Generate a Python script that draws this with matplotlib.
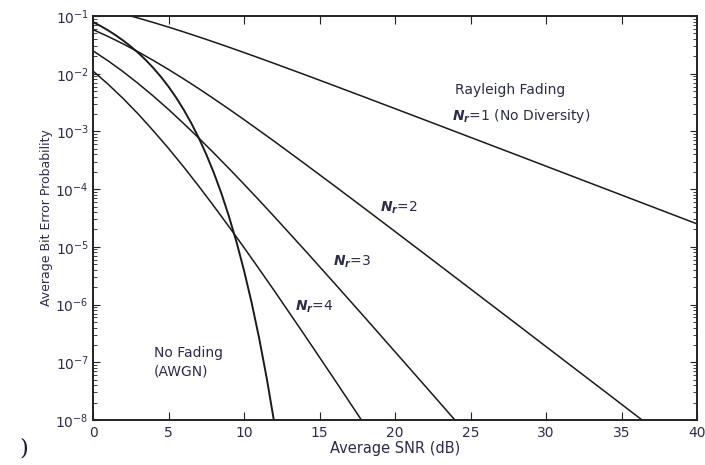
import numpy as np
import matplotlib
matplotlib.use("Agg")
import matplotlib.pyplot as plt

# bit error probability (no fading and Rayleigh with Nr branches)
snr_db = [0, 1, 2, 3, 4, 5, 6, 7, 8, 9, 10, 11, 12, 14, 16, 18, 20, 22, 24, 26, 28,
          30, 32, 34, 36, 38, 40]
nr1 = [0.1465, 0.1267, 0.1085, 0.0919, 0.0771, 0.0642, 0.0530, 0.04348, 0.03546,
       0.02878, 0.02327, 0.01875, 0.01506, 0.009665, 0.006164, 0.003916, 0.002481,
       0.00157, 9.92e-4, 6.27e-4, 3.96e-4, 2.50e-4, 1.576e-4, 9.95e-5, 6.28e-5,
       3.96e-5, 2.50e-5]
nr2 = [0.0581, 0.0441, 0.0328, 0.0238, 0.01693, 0.01183, 0.00813, 0.00551, 0.00368,
       0.00244, 0.0016, 0.00104, 6.74e-4, 2.78e-4, 1.135e-4, 4.59e-5, 1.844e-5,
       7.39e-6, 2.95e-6, 1.178e-6, 4.70e-7, 1.87e-7, 7.45e-8, 2.97e-8, 1.18e-8,
       4.7e-9, 1.9e-9]
nr3 = [0.0249, 0.01668, 0.01078, 0.00673, 0.00408, 0.0024, 0.00137, 7.69e-4, 4.22e-4,
       2.28e-4, 1.216e-4, 6.41e-5, 3.34e-5, 8.90e-6, 2.32e-6, 5.97e-7, 1.52e-7,
       3.86e-8, 9.76e-9, 2.46e-9]
nr4 = [0.0111, 0.00656, 0.0037, 0.00199, 0.00102, 5.07e-4, 2.43e-4, 1.125e-4, 5.07e-5,
       2.24e-5, 9.70e-6, 4.13e-6, 1.74e-6, 2.98e-7, 4.98e-8, 8.15e-9, 1.32e-9]

awgn_db = [0, 0.5, 1, 1.5, 2, 2.5, 3, 3.5, 4, 4.5, 5, 5.5, 6, 6.5, 7, 7.5, 8, 8.5, 9,
           9.5, 10, 10.5, 11, 11.5, 12, 12.5]
awgn = [0.07865, 0.06706, 0.05628, 0.0464, 0.03751, 0.02965, 0.02288, 0.01717, 0.0125,
        0.008793, 0.005954, 0.003861, 0.002388, 0.001399, 7.727e-4, 3.99e-4, 1.909e-4,
        8.44e-5, 3.363e-5, 1.214e-5, 3.872e-6, 1.083e-6, 2.613e-7, 5.33e-8, 9.0e-9, 1.23e-9]

txt = '#2c2c4c'
plt.rcParams['font.family'] = ['DejaVu Sans']
plt.rcParams['mathtext.fontset'] = 'custom'
plt.rcParams['mathtext.rm'] = 'DejaVu Sans'
plt.rcParams['mathtext.it'] = 'DejaVu Sans:italic:bold'

fig = plt.figure(figsize=(7.05, 4.65), dpi=100)
ax = fig.add_axes([0.132, 0.0968, 0.8567, 0.8688])

lc = '#1a1a1a'
ax.semilogy(snr_db, nr1, color=lc, lw=1.1)
ax.semilogy(snr_db, nr2, color=lc, lw=1.1)
ax.semilogy(snr_db[:len(nr3)], nr3, color=lc, lw=1.1)
ax.semilogy(snr_db[:len(nr4)], nr4, color=lc, lw=1.1)
ax.semilogy(awgn_db, awgn, color=lc, lw=1.4)

ax.set_xlim(0, 40)
ax.set_ylim(1e-8, 1e-1)
ax.set_xticks(np.arange(0, 41, 5))
ax.tick_params(which='both', direction='in', top=True, right=True, colors='#222222',
               labelcolor=txt, labelsize=10)
ax.tick_params(axis='x', which='major', length=6, pad=4)
ax.tick_params(axis='y', which='major', length=5, pad=3)
ax.tick_params(which='minor', length=3)
ax.xaxis.set_minor_locator(matplotlib.ticker.NullLocator())
for s in ax.spines.values():
    s.set_linewidth(1.4)
    s.set_color('#222222')

ax.set_xlabel('Average SNR (dB)', fontsize=10.5, color=txt, labelpad=1)
ax.set_ylabel('Average Bit Error Probability', fontsize=9, color=txt, labelpad=2)

fs = 10
ax.text(24.0, 10**-2.28, 'Rayleigh Fading', fontsize=fs, color=txt, va='center')
ax.text(23.8, 10**-2.73, r'$N_r$=1 (No Diversity)', fontsize=fs, color=txt, va='center')
ax.text(19.0, 10**-4.33, r'$N_r$=2', fontsize=fs, color=txt, va='center')
ax.text(15.9, 10**-5.26, r'$N_r$=3', fontsize=fs, color=txt, va='center')
ax.text(13.4, 10**-6.04, r'$N_r$=4', fontsize=fs, color=txt, va='center')
ax.text(4.05, 10**-7.0, 'No Fading\n(AWGN)', fontsize=fs, color=txt, va='center',
        linespacing=1.35)

# leftover of the panel letter at the bottom-left corner
fig.text(0.027, 0.012, ')', fontsize=16, family='DejaVu Serif', color='#1a1a3a',
         va='bottom')

fig.savefig('out.png', dpi=100)
